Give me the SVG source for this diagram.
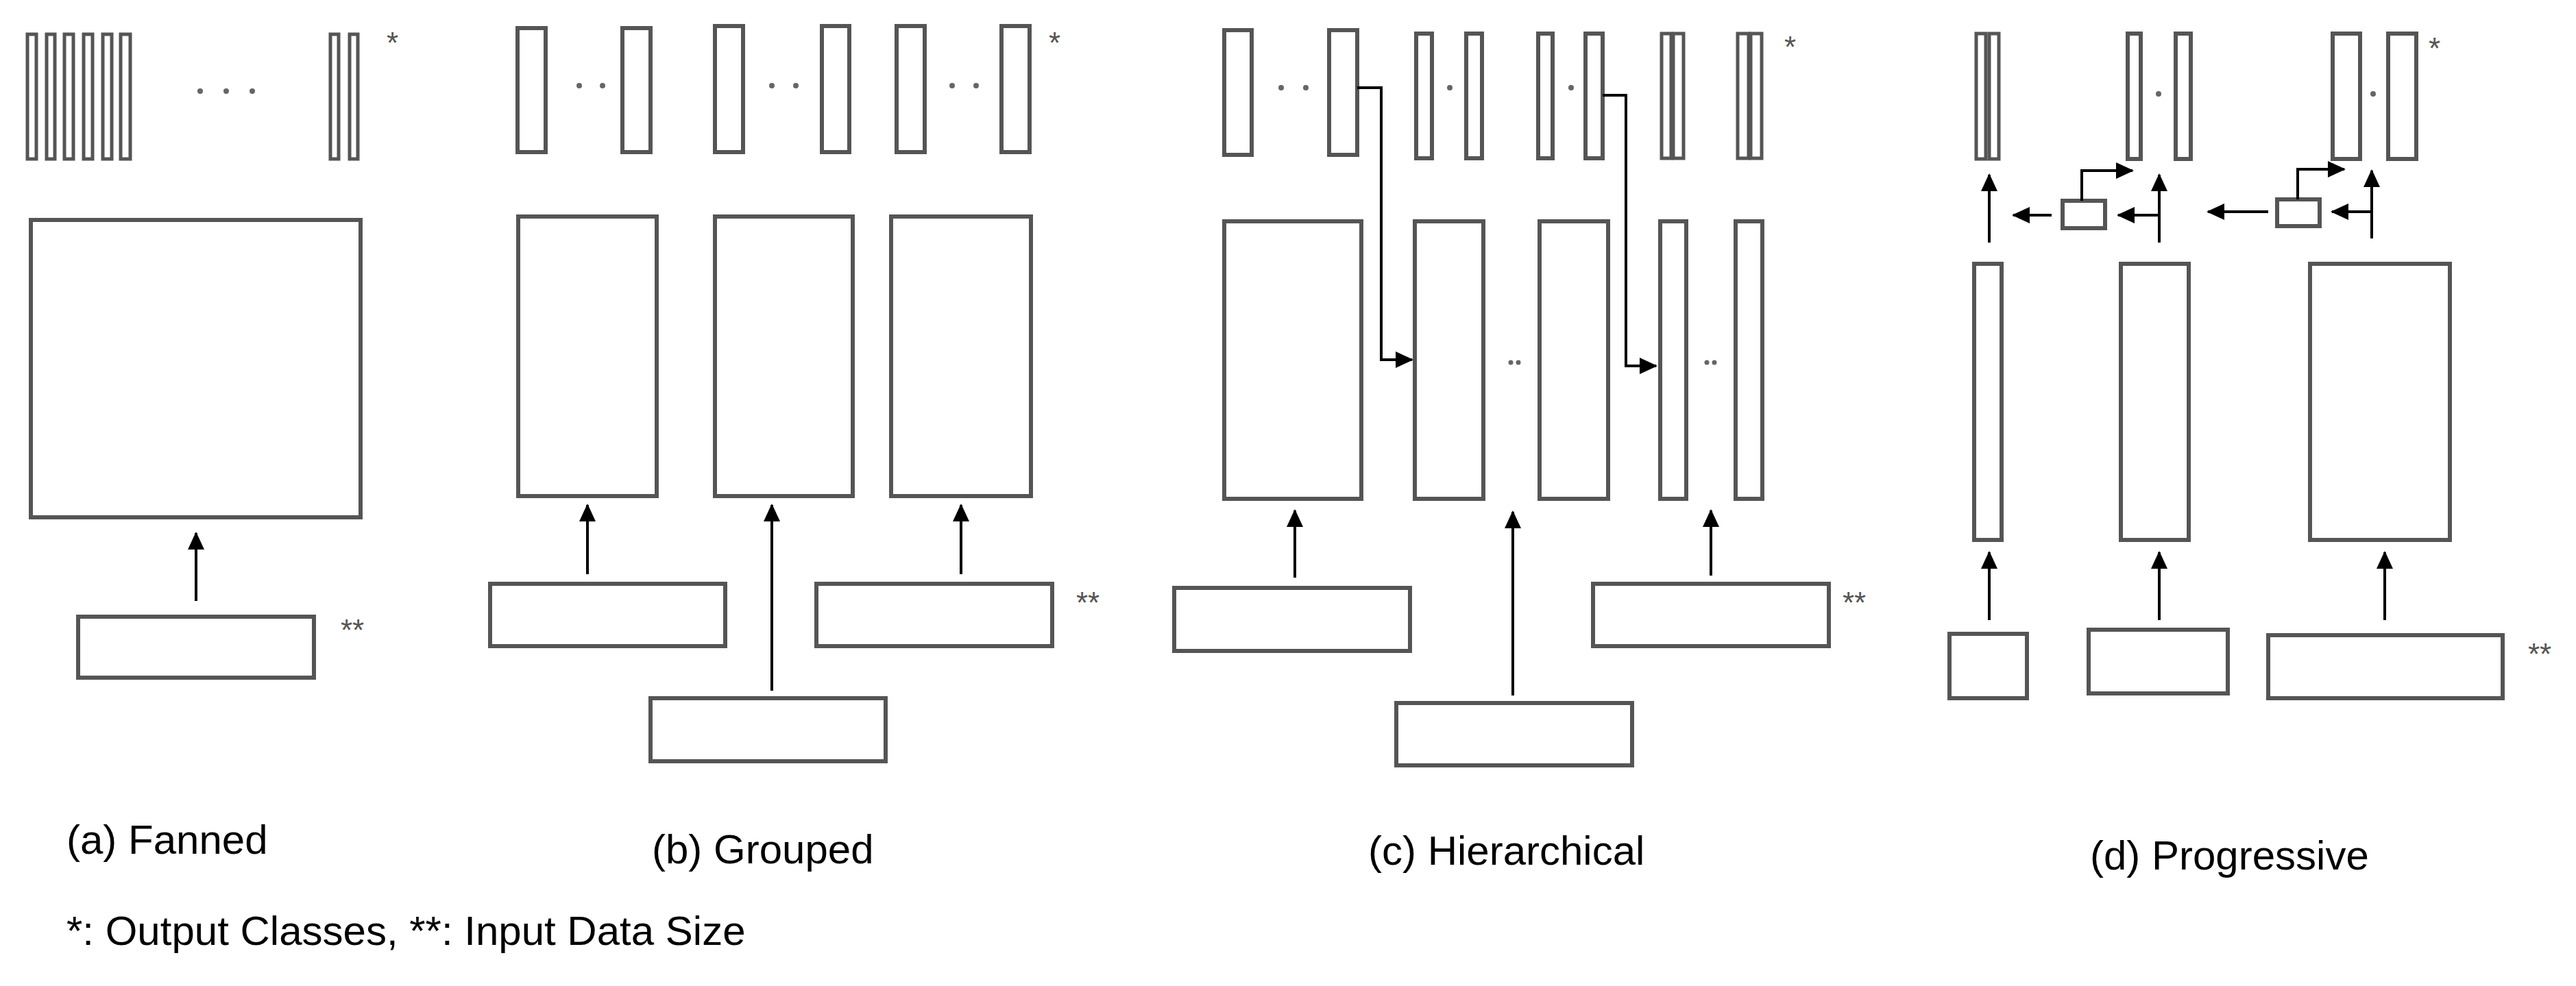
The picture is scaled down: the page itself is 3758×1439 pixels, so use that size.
<svg xmlns="http://www.w3.org/2000/svg" width="3758" height="1439" viewBox="0 0 3758 1439">
<style>
.b{fill:none;stroke:#555;stroke-width:6}
.t{fill:none;stroke:#555;stroke-width:5}
.a{fill:none;stroke:#000;stroke-width:4}
.d{fill:#666}
.s{font-family:"Liberation Sans",Arial,sans-serif;font-size:44px;fill:#555}
.l{font-family:"Liberation Sans",Arial,sans-serif;font-size:60px;fill:#000}
</style>
<defs>
<marker id="ah" markerUnits="userSpaceOnUse" markerWidth="26" markerHeight="26" refX="24" refY="12" orient="auto">
<path d="M0,0 L26,12 L0,24 Z" fill="#000"/>
</marker>
</defs>
<rect width="3758" height="1439" fill="#fff"/>
<g id="panel-a">
<g id="a-out">
<rect class="t" x="40" y="50" width="13" height="182"/>
<rect class="t" x="68" y="50" width="12" height="182"/>
<rect class="t" x="94" y="50" width="13" height="182"/>
<rect class="t" x="122" y="50" width="13" height="182"/>
<rect class="t" x="150" y="50" width="13" height="182"/>
<rect class="t" x="176" y="50" width="14" height="182"/>
<rect class="t" x="482" y="50" width="12" height="182"/>
<rect class="t" x="510" y="50" width="12" height="182"/>
<circle class="d" cx="292" cy="133" r="4"/><circle class="d" cx="330" cy="133" r="4"/><circle class="d" cx="368" cy="133" r="4"/>
<text class="s" x="564" y="78">*</text>
</g>
<g id="a-mid"><rect class="b" x="45" y="321" width="481" height="434"/></g>
<g id="a-in"><rect class="b" x="114" y="900" width="344" height="89"/><text class="s" x="497" y="935">**</text></g>
<text class="l" x="97" y="1246">(a) Fanned</text>
</g>
<g id="panel-b">
<g id="b-out">
<rect class="b" x="755" y="41" width="41" height="181"/><rect class="b" x="908" y="41" width="41" height="181"/>
<rect class="b" x="1043" y="38" width="41" height="184"/><rect class="b" x="1199" y="38" width="40" height="184"/>
<rect class="b" x="1308" y="38" width="41" height="184"/><rect class="b" x="1461" y="38" width="41" height="184"/>
<circle class="d" cx="845" cy="125" r="4"/><circle class="d" cx="879" cy="125" r="4"/>
<circle class="d" cx="1126" cy="125" r="4"/><circle class="d" cx="1161" cy="125" r="4"/>
<circle class="d" cx="1389" cy="125" r="4"/><circle class="d" cx="1424" cy="125" r="4"/>
<text class="s" x="1530" y="78">*</text>
</g>
<g id="b-mid">
<rect class="b" x="756" y="316" width="202" height="408"/>
<rect class="b" x="1043" y="316" width="201" height="408"/>
<rect class="b" x="1300" y="316" width="204" height="408"/>
</g>
<g id="b-in">
<rect class="b" x="715" y="852" width="343" height="91"/>
<rect class="b" x="1191" y="852" width="344" height="91"/>
<rect class="b" x="949" y="1019" width="343" height="92"/>
<text class="s" x="1570" y="895">**</text>
</g>
<text class="l" x="951" y="1260">(b) Grouped</text>
</g>
<g id="panel-c">
<g id="c-out">
<rect class="b" x="1786" y="44" width="40" height="182"/><rect class="b" x="1939" y="44" width="41" height="182"/>
<circle class="d" cx="1869" cy="128" r="4"/><circle class="d" cx="1905" cy="128" r="4"/>
<rect class="b" x="2066" y="49" width="23" height="182"/><rect class="b" x="2139" y="49" width="23" height="182"/>
<circle class="d" cx="2115" cy="128" r="4"/>
<rect class="b" x="2244" y="49" width="21" height="182"/><rect class="b" x="2313" y="49" width="25" height="182"/>
<circle class="d" cx="2292" cy="128" r="4"/>
<rect class="t" x="2424" y="49" width="14" height="182"/><rect class="t" x="2441" y="49" width="15" height="182"/>
<rect class="t" x="2535" y="49" width="16" height="182"/><rect class="t" x="2554" y="49" width="16" height="182"/>
<text class="s" x="2603" y="84">*</text>
</g>
<g id="c-mid">
<rect class="b" x="1786" y="323" width="200" height="405"/>
<rect class="b" x="2064" y="323" width="100" height="405"/>
<rect class="b" x="2246" y="323" width="100" height="405"/>
<rect class="b" x="2422" y="323" width="38" height="405"/>
<rect class="b" x="2532" y="323" width="39" height="405"/>
<circle class="d" cx="2204" cy="529" r="3.5"/><circle class="d" cx="2215" cy="529" r="3.5"/>
<circle class="d" cx="2490" cy="529" r="3.5"/><circle class="d" cx="2501" cy="529" r="3.5"/>
</g>
<g id="c-in">
<rect class="b" x="1713" y="858" width="344" height="92"/>
<rect class="b" x="2324" y="852" width="344" height="91"/>
<rect class="b" x="2037" y="1026" width="344" height="91"/>
<text class="s" x="2688" y="895">**</text>
</g>
<text class="l" x="1996" y="1262">(c) Hierarchical</text>
</g>
<g id="panel-d">
<g id="d-out">
<rect class="t" x="2883" y="49" width="14" height="183"/><rect class="t" x="2902" y="49" width="14" height="183"/>
<rect class="b" x="3104" y="49" width="19" height="183"/><rect class="b" x="3174" y="49" width="22" height="183"/>
<circle class="d" cx="3149" cy="137" r="4"/>
<rect class="b" x="3403" y="49" width="40" height="183"/><rect class="b" x="3484" y="49" width="41" height="183"/>
<circle class="d" cx="3462" cy="137" r="4"/>
<text class="s" x="3543" y="86">*</text>
</g>
<g id="d-small">
<rect class="b" x="3009" y="293" width="62" height="40"/>
<rect class="b" x="3322" y="291" width="62" height="39"/>
</g>
<g id="d-mid">
<rect class="b" x="2880" y="385" width="40" height="403"/>
<rect class="b" x="3094" y="385" width="99" height="403"/>
<rect class="b" x="3370" y="385" width="204" height="403"/>
</g>
<g id="d-in">
<rect class="b" x="2844" y="925" width="113" height="94"/>
<rect class="b" x="3047" y="919" width="203" height="93"/>
<rect class="b" x="3309" y="927" width="342" height="92"/>
<text class="s" x="3688" y="970">**</text>
</g>
<text class="l" x="3049" y="1269">(d) Progressive</text>
</g>
<g id="connectors">
<line class="a" x1="286" y1="877" x2="286" y2="778" marker-end="url(#ah)"/>
<line class="a" x1="857" y1="838" x2="857" y2="737" marker-end="url(#ah)"/>
<line class="a" x1="1126" y1="1008" x2="1126" y2="737" marker-end="url(#ah)"/>
<line class="a" x1="1402" y1="838" x2="1402" y2="737" marker-end="url(#ah)"/>
<line class="a" x1="1889" y1="843" x2="1889" y2="745" marker-end="url(#ah)"/>
<line class="a" x1="2207" y1="1015" x2="2207" y2="747" marker-end="url(#ah)"/>
<line class="a" x1="2496" y1="840" x2="2496" y2="745" marker-end="url(#ah)"/>
<polyline class="a" points="1980,128 2015,128 2015,525 2060,525" marker-end="url(#ah)"/>
<polyline class="a" points="2338,139 2372,139 2372,534 2416,534" marker-end="url(#ah)"/>
<line class="a" x1="2902" y1="905" x2="2902" y2="806" marker-end="url(#ah)"/>
<line class="a" x1="3150" y1="905" x2="3150" y2="806" marker-end="url(#ah)"/>
<line class="a" x1="3479" y1="905" x2="3479" y2="806" marker-end="url(#ah)"/>
<line class="a" x1="2902" y1="354" x2="2902" y2="255" marker-end="url(#ah)"/>
<line class="a" x1="2993" y1="314" x2="2937" y2="314" marker-end="url(#ah)"/>
<line class="a" x1="3150" y1="314" x2="3090" y2="314" marker-end="url(#ah)"/>
<line class="a" x1="3150" y1="354" x2="3150" y2="255" marker-end="url(#ah)"/>
<polyline class="a" points="3037,293 3037,249 3111,249" marker-end="url(#ah)"/>
<line class="a" x1="3309" y1="309" x2="3221" y2="309" marker-end="url(#ah)"/>
<line class="a" x1="3460" y1="309" x2="3402" y2="309" marker-end="url(#ah)"/>
<line class="a" x1="3460" y1="348" x2="3460" y2="249" marker-end="url(#ah)"/>
<polyline class="a" points="3352,291 3352,247 3420,247" marker-end="url(#ah)"/>
</g>
<text class="l" x="97" y="1379">*: Output Classes, **: Input Data Size</text>
</svg>
